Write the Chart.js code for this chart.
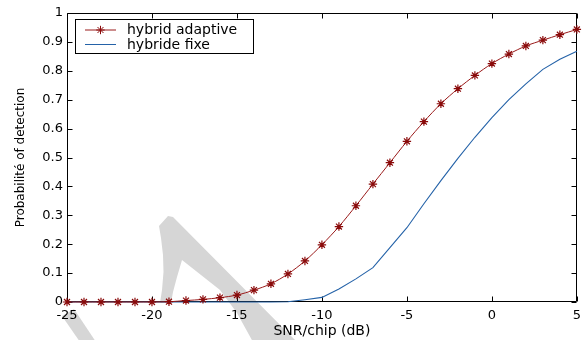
<!DOCTYPE html>
<html><head><meta charset="utf-8">
<script src="https://cdn.jsdelivr.net/npm/chart.js@4.4.0/dist/chart.umd.min.js"></script>
<style>html,body{margin:0;padding:0;background:#fff;}#wrap{width:587px;height:340px;}</style>
</head><body><div id="wrap"><canvas id="c" width="587" height="340"></canvas></div>
<script>
const snr = [-25,-24,-23,-22,-21,-20,-19,-18,-17,-16,-15,-14,-13,-12,-11,-10,-9,-8,-7,-6,-5,-4,-3,-2,-1,0,1,2,3,4,5];
const adaptive = [0,0,0,0,0,0,0.001,0.005,0.009,0.015,0.024,0.041,0.063,0.097,0.142,0.198,0.261,0.333,0.408,0.482,0.556,0.624,0.686,0.738,0.784,0.825,0.858,0.886,0.906,0.925,0.943];
const fixe = [0,0,0,0,0,0,0,0,0,0,0,0,0,0.001,0.008,0.016,0.045,0.08,0.119,0.188,0.257,0.34,0.42,0.497,0.57,0.638,0.7,0.755,0.805,0.84,0.868];
const seriesNames = ['hybrid adaptive', 'hybride fixe'];
const xTickLabels = ['-25','-20','-15','-10','-5','0','5'];
const yTickLabels = ['0','0.1','0.2','0.3','0.4','0.5','0.6','0.7','0.8','0.9','1'];
const xTitle = 'SNR/chip (dB)';
const yTitle = 'Probabilité of detection';

const FONT = 'DejaVu Sans';
const RED = '#8a0a0a';
const BLUE = '#2462a8';

const watermark = {
  id: 'watermark',
  beforeDraw(chart) {
    const ctx = chart.ctx;
    ctx.save();
    ctx.fillStyle = '#d6d6d6';
    const shapes = [
      [[168,216],[173,217],[297,342],[253,342],[237,313],[220,290],[182,260],[177,277],[173,292],[171,303],[160,303],[162,290],[163.5,272],[163,255],[161,238],[159,226]],
      [[62,316],[74,309],[96,342],[80,342]]
    ];
    shapes.forEach(s => {
      ctx.beginPath();
      s.forEach((p, i) => i ? ctx.lineTo(p[0], p[1]) : ctx.moveTo(p[0], p[1]));
      ctx.closePath();
      ctx.fill();
    });
    ctx.restore();
  }
};

const frame = {
  id: 'frame',
  beforeDatasetsDraw(chart) {
    const {ctx, chartArea: a, scales: {x, y}} = chart;
    const L = Math.round(a.left) + 0.5, R = Math.round(a.right) - 0.5;
    const T = Math.round(a.top) + 0.5, B = Math.round(a.bottom) - 0.5;
    ctx.save();
    ctx.strokeStyle = '#000';
    ctx.lineWidth = 1;
    ctx.beginPath();
    ctx.rect(L, T, R - L, B - T);
    const tl = 5;
    x.ticks.forEach(t => {
      const px = Math.round(x.getPixelForValue(t.value)) + 0.5;
      ctx.moveTo(px, B); ctx.lineTo(px, B - tl);
      ctx.moveTo(px, T); ctx.lineTo(px, T + tl);
    });
    y.ticks.forEach(t => {
      const py = Math.round(y.getPixelForValue(t.value)) + 0.5;
      ctx.moveTo(L, py); ctx.lineTo(L + tl, py);
      ctx.moveTo(R, py); ctx.lineTo(R - tl, py);
    });
    ctx.stroke();
    ctx.restore();
  }
};

const boxLegend = {
  id: 'boxLegend',
  afterDraw(chart) {
    const ctx = chart.ctx;
    const bx = 75.5, by = 19.5, bw = 178, bh = 34;
    ctx.save();
    ctx.fillStyle = '#fff';
    ctx.fillRect(bx, by, bw, bh);
    ctx.strokeStyle = '#000';
    ctx.lineWidth = 1;
    ctx.strokeRect(bx, by, bw, bh);
    chart.data.datasets.forEach((ds, i) => {
      const yy = 30 + i * 14.5;
      ctx.strokeStyle = ds.borderColor;
      ctx.lineWidth = 1;
      ctx.beginPath();
      ctx.moveTo(85, yy); ctx.lineTo(116, yy);
      ctx.stroke();
      if (ds.pointRadius > 0) {
        ctx.strokeStyle = ds.pointBorderColor;
        ctx.fillStyle = ds.pointBorderColor;
        Chart.helpers.drawPoint(ctx, {pointStyle: 'star', radius: ds.pointRadius, rotation: 0, borderWidth: ds.pointBorderWidth}, 100.5, yy);
      }
      ctx.fillStyle = '#000';
      ctx.font = '14px "' + FONT + '"';
      ctx.textBaseline = 'middle';
      ctx.textAlign = 'left';
      ctx.fillText(ds.label, 127, yy + 0.5);
    });
    ctx.restore();
  }
};

new Chart(document.getElementById('c'), {
  type: 'line',
  data: {
    datasets: [
      {
        label: seriesNames[0],
        data: snr.map((v, i) => ({x: v, y: adaptive[i]})),
        borderColor: '#9a1a1a', borderWidth: 1,
        pointStyle: 'star', pointRadius: 4.2, pointBorderWidth: 1.2,
        pointBorderColor: RED, pointBackgroundColor: RED,
        tension: 0.3, clip: false, fill: false
      },
      {
        label: seriesNames[1],
        data: snr.map((v, i) => ({x: v, y: fixe[i]})),
        borderColor: BLUE, borderWidth: 1.1,
        pointRadius: 0, tension: 0, clip: false, fill: false
      }
    ]
  },
  options: {
    responsive: false,
    animation: false,
    devicePixelRatio: 1,
    layout: {padding: {top: 13, right: 8, left: 0, bottom: 0}},
    plugins: {legend: {display: false}, tooltip: {enabled: false}},
    scales: {
      x: {
        type: 'linear', min: -25, max: 5,
        grid: {display: false, drawTicks: false},
        border: {display: false},
        ticks: {
          stepSize: 5, autoSkip: false, maxRotation: 0, padding: 6,
          color: '#000', font: {family: FONT, size: 13},
          callback: (v, i) => xTickLabels[i]
        },
        title: {display: true, text: xTitle, color: '#000', font: {family: FONT, size: 14}, padding: {top: 0, bottom: 0}},
        afterFit: s => { s.height = 38; }
      },
      y: {
        type: 'linear', min: 0, max: 1,
        grid: {display: false, drawTicks: false},
        border: {display: false},
        ticks: {
          stepSize: 0.1, autoSkip: false, padding: 4,
          color: '#000', font: {family: FONT, size: 13},
          callback: (v, i) => yTickLabels[i]
        },
        title: {display: true, text: yTitle, color: '#000', font: {family: FONT, size: 12}, padding: {top: 14, bottom: 0}},
        afterFit: s => { s.width = 67; }
      }
    }
  },
  plugins: [watermark, frame, boxLegend]
});
</script></body></html>
